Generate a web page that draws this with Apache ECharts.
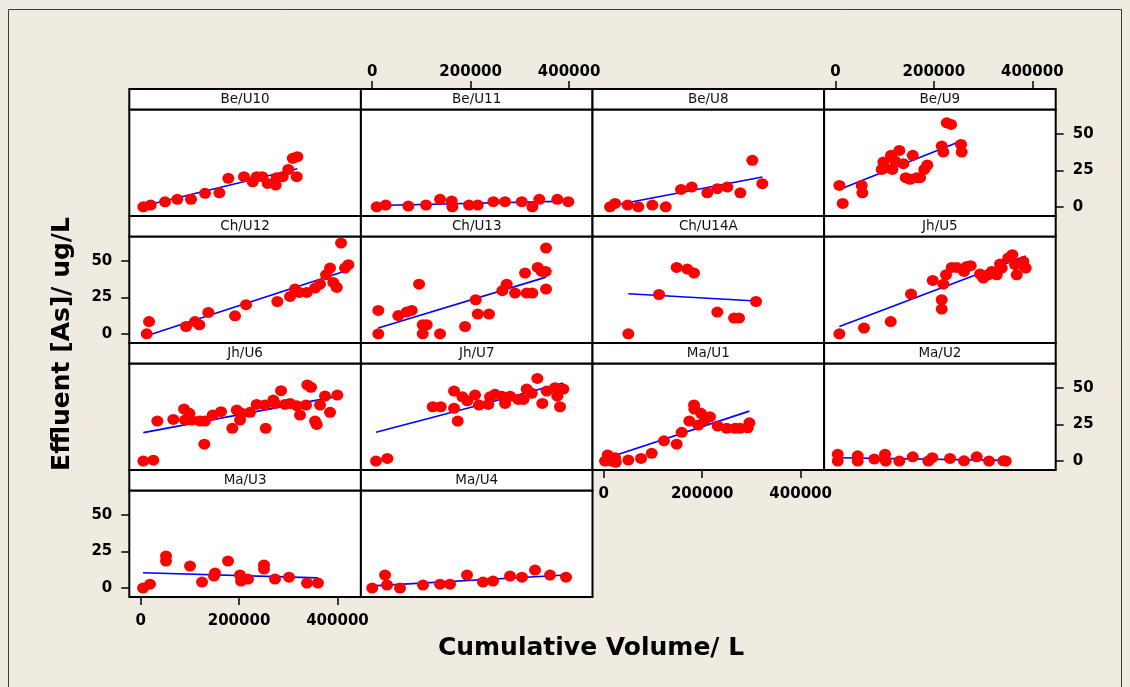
<!DOCTYPE html>
<html>
<head>
<meta charset="utf-8">
<script src="https://cdn.jsdelivr.net/npm/echarts@6/dist/echarts.min.js"></script>
<style>
  html, body { margin: 0; padding: 0; background: #EFEBE0; }
  #chart { width: 1130px; height: 687px; }
</style>
</head>
<body>
<div id="chart"></div>
<script>
// Effluent arsenic versus cumulative treated volume, one panel per unit.
// Each point is [cumulative volume (L), effluent As (ug/L)].
const panelNames = ['Be/U10', 'Be/U11', 'Be/U8', 'Be/U9',
                    'Ch/U12', 'Ch/U13', 'Ch/U14A', 'Jh/U5',
                    'Jh/U6', 'Jh/U7', 'Ma/U1', 'Ma/U2',
                    'Ma/U3', 'Ma/U4'];

const beU10 = [[5500,0.2],[20500,1.4],[49600,3.6],[74600,5.3],[102400,5.3],[130900,9.4],[160000,9.8],[178200,19.7],[210100,20.8],[227800,17.3],[235900,20.8],[247300,20.8],[258300,16.2],[274500,15.1],[276500,20.1],[288700,20.8],[300100,25.8],[317200,20.8],[309100,33.4],[318400,34.5]];
const beU11 = [[9100,0.2],[27400,1.4],[73400,0.7],[109300,1.4],[137800,5.3],[161500,4.1],[162800,0.2],[196700,1.4],[214400,1.4],[246100,3.7],[269900,3.7],[303800,3.7],[325400,0.2],[339500,5.3],[376100,5.3],[398500,3.7]];
const beU8 = [[12600,0.2],[22800,2.5],[48500,1.4],[70100,0.2],[98600,1.4],[125800,0.2],[156900,12.1],[178600,13.7],[210300,9.8],[230600,12.6],[250900,13.7],[277400,9.8],[301700,32],[322100,16]];
const beU9 = [[8000,14.8],[14800,2.5],[53400,14.8],[54700,9.8],[94100,25.8],[97400,30.8],[100800,26.9],[113000,35.4],[115600,25.8],[121100,31.5],[129800,38.8],[138000,29.7],[142800,20.1],[151600,19],[157100,35.4],[165200,20.1],[171900,20.1],[180600,25.8],[186700,28.8],[216000,41.8],[219300,37.7],[226200,57.7],[234900,56.6],[255200,42.9],[256600,37.7]];
const chU12 = [[12400,0.2],[17100,8.6],[92300,5.2],[110500,8.6],[119300,6.4],[137600,14.8],[191800,12.5],[214200,20.1],[277800,22.3],[303600,25.8],[313700,30.8],[322500,28.5],[337500,28.5],[354400,31.5],[364500,34.2],[376700,40.6],[384900,45.2],[391600,35.3],[398500,31.9],[415300,45.2],[422100,47.5],[407200,62.3]];
const chU13 = [[12400,16.2],[12400,0.2],[53000,12.7],[70100,15.1],[80300,16.2],[95100,34.2],[102600,6.4],[110700,6.4],[102600,0.2],[137800,0.2],[188600,5.2],[210300,23.5],[214400,13.7],[237300,13.7],[264400,29.7],[273300,34.2],[290200,28.1],[310500,41.8],[313900,28.1],[325300,28.1],[336300,45.6],[344400,42.9],[352500,42.9],[353200,30.8],[353200,58.9]];
const chU14A = [[49800,0.2],[112200,27.1],[148100,45.6],[169700,44.5],[183300,41.8],[230600,15.1],[264600,11],[274700,11],[309300,22.3]];
const jhU5 = [[8000,0.2],[58100,4.1],[112400,8.6],[153600,27.4],[197700,36.7],[216000,23.5],[216000,17.1],[219300,34.2],[224700,40.6],[236300,45.6],[246500,45.6],[261300,42.9],[266800,46.3],[274900,46.8],[293800,41.1],[300500,38.4],[310700,40.6],[317600,42.9],[327800,40.6],[334500,47.9],[337900,45.2],[351300,52.1],[359500,54.3],[368400,40.6],[365000,47.5],[381800,49.7],[386700,45.2],[378600,47.5]];
const jhU6 = [[5500,0],[25800,0.6],[33900,27.4],[66400,28.5],[88200,35.6],[90200,28.1],[99000,32.7],[103800,28.1],[120700,27.4],[130900,27.4],[129400,11.6],[146500,31.5],[163400,33.8],[186300,22.4],[195300,34.9],[202000,28.1],[205400,32.7],[222300,33.4],[235900,38.8],[252800,38.4],[254200,22.4],[269600,41.8],[273100,39.5],[285300,48.2],[293400,38.8],[303600,39.5],[317200,37.9],[323900,31.5],[336100,38.4],[338700,52.1],[346300,50.5],[354400,27.4],[357800,25.1],[364500,38.4],[374700,44.5],[384900,33.4],[399700,45.2]];
const jhU7 = [[7700,0],[30700,1.8],[122900,37.2],[139200,37.2],[166200,47.9],[166200,36.1],[173700,27.4],[183100,44],[193200,41.3],[208900,45.2],[217000,38.4],[235900,38.8],[239400,44],[249500,45.7],[263100,44.4],[269900,39.5],[280000,44.4],[296900,42.2],[307100,42.2],[313900,49.3],[324100,46.4],[335500,56.6],[345600,39.5],[354600,47.9],[371400,50.2],[376100,44.4],[381600,37.2],[388300,49.3]];
const maU1 = [[2400,0],[7900,4.1],[16000,0],[22800,2.3],[24200,-0.8],[49800,0.7],[75600,1.8],[97300,5.3],[122300,13.9],[148100,11.6],[158300,19.7],[173700,27.4],[183300,38.4],[183900,35.6],[192000,24.7],[197500,32.7],[205600,28.1],[215800,30.3],[231400,24],[249700,22.4],[266600,22.4],[276800,22.4],[292400,22.8],[295700,26.2]];
const maU2 = [[4700,4.6],[4700,0],[45300,3.6],[45300,0],[79000,1.4],[100800,4.6],[102200,0],[129800,0],[157100,2.9],[188800,0],[196900,2.3],[232900,1.8],[261300,0.2],[287100,2.9],[312100,0],[341200,0.2],[346100,0]];
const maU3 = [[4900,0],[19100,2.7],[51600,21.9],[51600,18.5],[100400,15.1],[124800,4.1],[149100,8.2],[151200,10.3],[177600,18.5],[202000,8.9],[204000,4.8],[218200,6.2],[250700,15.8],[250700,13],[273100,6.2],[301500,7.5],[338100,3.4],[360400,3.4]];
const maU4 = [[0,0],[26000,8.9],[30100,2.1],[56500,0],[103200,2.1],[137800,2.7],[158100,2.7],[192600,8.9],[225100,4.1],[245500,4.8],[280000,8.2],[304400,7.5],[330800,12.3],[361300,8.9],[393800,7.5]];

// Least-squares trend line end points for each unit, same order as panelNames.
const fitBeU10 = [[5500,0.7],[318400,26.3]];
const fitBeU11 = [[9100,1.1],[398500,4.1]];
const fitBeU8 = [[12600,0.8],[322100,20.6]];
const fitBeU9 = [[8000,12.1],[256600,45.4]];
const fitChU12 = [[12400,-1.1],[422100,43.8]];
const fitChU13 = [[12400,4.1],[353200,39.0]];
const fitChU14A = [[49800,27.6],[309300,22.6]];
const fitJhU5 = [[8000,5.2],[386700,53.5]];
const fitJhU6 = [[5500,19.5],[399700,44.3]];
const fitJhU7 = [[7700,19.7],[388300,53.5]];
const fitMaU1 = [[2400,1.6],[295700,34.2]];
const fitMaU2 = [[4700,2.3],[346100,0.5]];
const fitMaU3 = [[4900,10.5],[360400,7.0]];
const fitMaU4 = [[0,1.5],[393800,9.0]];

const xTicks = [0, 200000, 400000];
const yTicks = [0, 25, 50];

const pointSets = [beU10, beU11, beU8, beU9, chU12, chU13, chU14A, jhU5, jhU6, jhU7, maU1, maU2, maU3, maU4];
const fitSets = [fitBeU10, fitBeU11, fitBeU8, fitBeU9, fitChU12, fitChU13, fitChU14A, fitJhU5, fitJhU6, fitJhU7, fitMaU1, fitMaU2, fitMaU3, fitMaU4];

// Shared scales across all panels
const X_MIN = -23000, X_MAX = 447600;
const Y_MIN = -6.1, Y_MAX = 66.8;

// Panel layout (pixels)
const PANEL_LEFT = 129.3, PANEL_W = 231.6;
const STRIP_TOPS = [89, 216, 343, 470];
const STRIP_H = 20.5, PANEL_H = 106.5;

const tickFont = { color: '#000', fontFamily: 'DejaVu Sans', fontWeight: 'bold', fontSize: 15,
                   formatter: v => String(v) };
const tickLine = { color: '#000', width: 1.5 };

const grids = [], xAxes = [], yAxes = [], series = [], graphics = [];

// outer frame
graphics.push({
  type: 'rect', z: -10, silent: true,
  shape: { x: 8.5, y: 9.5, width: 1113, height: 700 },
  style: { fill: '#EFEBE0', stroke: '#3a3a3a', lineWidth: 1 }
});

panelNames.forEach((name, i) => {
  const row = Math.floor(i / 4), col = i % 4;
  const left = PANEL_LEFT + col * PANEL_W;
  const stripTop = STRIP_TOPS[row];
  const top = stripTop + STRIP_H;

  grids.push({
    left: left, top: top, width: PANEL_W, height: PANEL_H,
    show: true, backgroundColor: '#fff', borderColor: '#000', borderWidth: 2
  });

  const xa = {
    gridIndex: i, type: 'value', min: X_MIN, max: X_MAX,
    axisLine: { show: false, onZero: false }, splitLine: { show: false },
    axisTick: { show: false }, axisLabel: { show: false }
  };
  const showTop = row === 0 && (col === 1 || col === 3);
  const showBottom = (row === 3 && col === 0) || (row === 2 && col === 2);
  if (showTop || showBottom) {
    xa.position = showTop ? 'top' : 'bottom';
    xa.offset = showTop ? STRIP_H : 0;
    xa.axisTick = { show: true, inside: false, length: 8, customValues: xTicks, lineStyle: tickLine };
    xa.axisLabel = Object.assign({ show: true, customValues: xTicks, margin: showTop ? 9 : 17 }, tickFont);
  }
  xAxes.push(xa);

  const ya = {
    gridIndex: i, type: 'value', min: Y_MIN, max: Y_MAX,
    axisLine: { show: false, onZero: false }, splitLine: { show: false },
    axisTick: { show: false }, axisLabel: { show: false }
  };
  const showLeft = col === 0 && (row === 1 || row === 3);
  const showRight = col === 3 && (row === 0 || row === 2);
  if (showLeft || showRight) {
    ya.position = showLeft ? 'left' : 'right';
    ya.axisTick = { show: true, inside: false, length: 8, customValues: yTicks, lineStyle: tickLine };
    ya.axisLabel = Object.assign({ show: true, customValues: yTicks, margin: 17 }, tickFont);
  }
  yAxes.push(ya);

  series.push({
    type: 'line', xAxisIndex: i, yAxisIndex: i,
    data: fitSets[i], symbol: 'none', silent: true, z: 2,
    lineStyle: { color: '#0000FF', width: 1.6 }
  });
  series.push({
    type: 'scatter', xAxisIndex: i, yAxisIndex: i,
    data: pointSets[i], symbol: 'circle', symbolSize: [12, 11], z: 3,
    itemStyle: { color: '#FF0000', opacity: 1 }
  });

  // strip with the unit name
  graphics.push({
    type: 'rect', z: 5, silent: true,
    shape: { x: left, y: stripTop, width: PANEL_W, height: STRIP_H },
    style: { fill: '#fff', stroke: '#000', lineWidth: 2 }
  });
  graphics.push({
    type: 'text', z: 6, silent: true,
    x: left + PANEL_W / 2, y: stripTop + STRIP_H / 2 + 0.5,
    style: { text: name, align: 'center', verticalAlign: 'middle',
             font: '13.5px "DejaVu Sans"', fill: '#111' }
  });
});

// axis titles
graphics.push({
  type: 'text', z: 6, silent: true, x: 591, y: 648,
  style: { text: 'Cumulative Volume/ L', align: 'center', verticalAlign: 'middle',
           font: 'bold 25px "DejaVu Sans"', fill: '#000' }
});
graphics.push({
  type: 'text', z: 6, silent: true, x: 62, y: 344, rotation: Math.PI / 2,
  style: { text: 'Effluent [As]/ ug/L', align: 'center', verticalAlign: 'middle',
           font: 'bold 25px "DejaVu Sans"', fill: '#000' }
});

const chart = echarts.init(document.getElementById('chart'), null, { renderer: 'canvas' });
chart.setOption({
  animation: false,
  backgroundColor: '#EFEBE0',
  grid: grids,
  xAxis: xAxes,
  yAxis: yAxes,
  series: series,
  graphic: graphics
});
</script>
</body>
</html>
